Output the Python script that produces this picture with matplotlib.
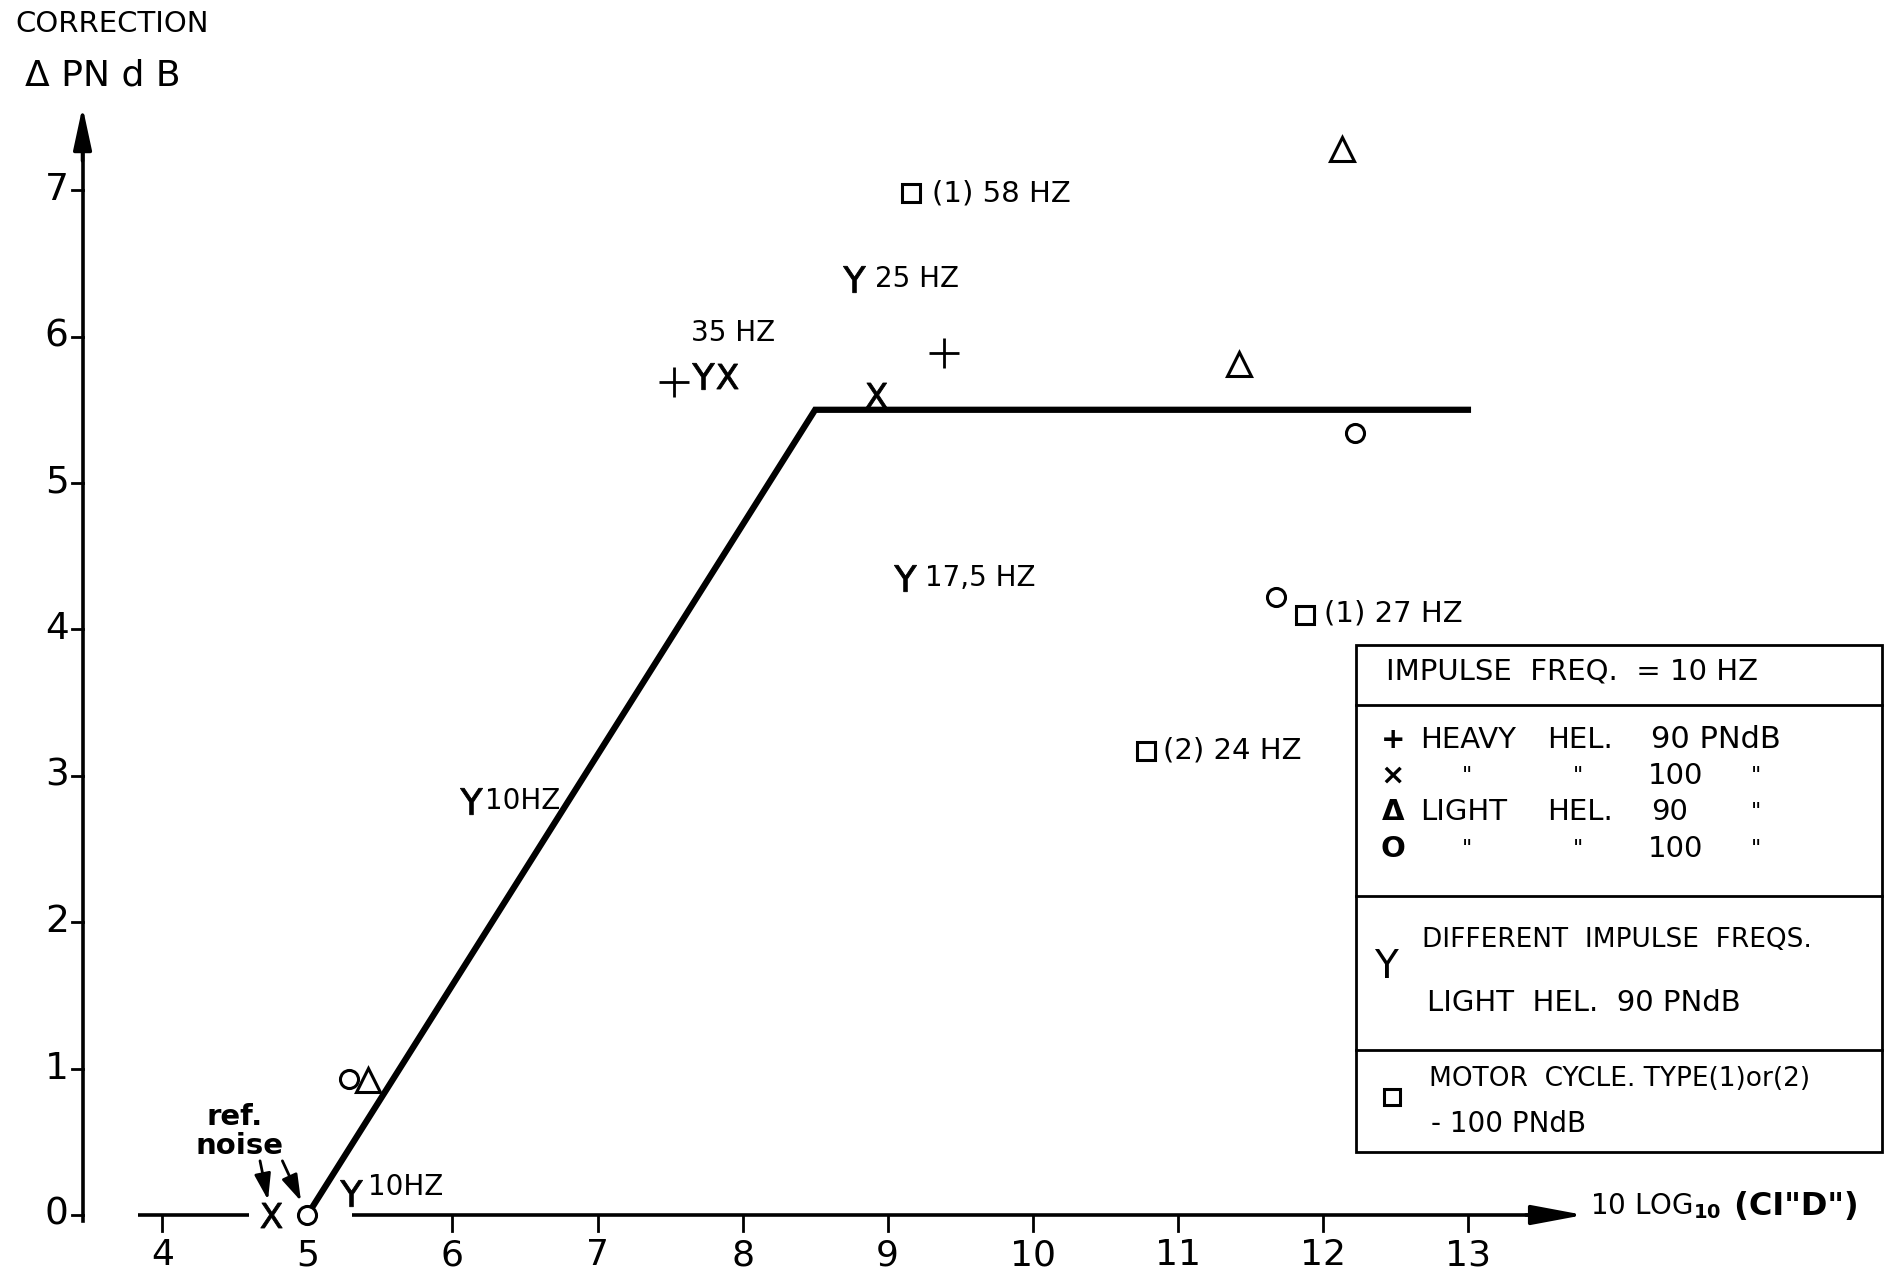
import matplotlib

matplotlib.use("Agg")
import matplotlib.pyplot as plt
from matplotlib.patches import Rectangle

# correction curve: rises from the reference point, then flat
curve_x = [5.0, 8.5, 13.0]
curve_y = [0.0, 5.5, 5.5]

# impulse freq = 10 Hz
heavy90_x = [7.53, 9.39]
heavy90_y = [5.69, 5.89]
heavy100_x = [4.75, 7.89, 8.92]
heavy100_y = [0.0, 5.73, 5.60]
light90_x = [5.42, 11.42, 12.13]
light90_y = [0.92, 5.81, 7.28]
light100_x = [5.0, 5.29, 11.68, 12.22]
light100_y = [0.0, 0.93, 4.22, 5.34]

# different impulse freqs, light hel. 90 PNdB
freq_x = [5.30, 6.13, 7.73, 8.77, 9.12]
freq_y = [0.15, 2.83, 5.73, 6.39, 4.35]
freq_labels = ["10HZ", "10HZ", "35 HZ", "25 HZ", "17,5 HZ"]

# motor cycles
moto_x = [9.16, 10.78, 11.88]
moto_y = [6.98, 3.17, 4.10]
moto_labels = ["(1) 58 HZ", "(2) 24 HZ", "(1) 27 HZ"]

x_ticks = [4, 5, 6, 7, 8, 9, 10, 11, 12, 13]
y_ticks = [0, 1, 2, 3, 4, 5, 6, 7]

# label offsets (points) next to the markers
freq_offsets = [(12, 4), (10, 0), (-9, 31), (15, 0), (14, 0)]
moto_offsets = [(15, 0), (12, 0), (13, 1)]

plt.rcParams["font.family"] = "DejaVu Sans"
INK = "black"

fig = plt.figure(figsize=(18.86, 12.74), dpi=100)
ax = fig.add_axes([0, 0, 1, 1])
ax.set_xlim(2.881, 15.882)
ax.set_ylim(-0.403, 8.299)
ax.axis("off")

# --- hand-drawn style axes ---
yaxis_x = 3.45
ax.plot([yaxis_x, yaxis_x], [-0.04, 7.4], color=INK, lw=2.6)
ax.annotate("", xy=(yaxis_x, 7.57), xytext=(yaxis_x, 7.2),
            arrowprops=dict(arrowstyle="-|>,head_length=1.3,head_width=0.28",
                            mutation_scale=20, color=INK, lw=2.6,
                            shrinkA=0, shrinkB=0))
for v in y_ticks:
    ax.plot([yaxis_x - 0.07, yaxis_x], [v, v], color=INK, lw=2)
    ax.annotate(str(v), xy=(yaxis_x, v), xytext=(-10, 0),
                textcoords="offset points", ha="right", va="center",
                fontsize=27)

x_segments = [(3.83, 4.60), (5.31, 13.5)]
for a, b in x_segments:
    ax.plot([a, b], [0, 0], color=INK, lw=2.6, solid_capstyle="butt")
ax.annotate("", xy=(13.8, 0), xytext=(13.4, 0),
            arrowprops=dict(arrowstyle="-|>,head_length=1.6,head_width=0.3",
                            mutation_scale=20, color=INK, lw=2.6,
                            shrinkA=0, shrinkB=0))
for t in x_ticks:
    if any(a <= t <= b for a, b in x_segments):
        ax.plot([t, t], [0, -0.11], color=INK, lw=2)
    ax.annotate(str(t), xy=(t, 0), xytext=(0, -29),
                textcoords="offset points", ha="center", va="center",
                fontsize=26)

# axis titles
ax.text(0.008, 0.981, "CORRECTION", transform=ax.transAxes,
        ha="left", va="center", fontsize=21)
ax.text(0.013, 0.941, "Δ PN d B", transform=ax.transAxes,
        ha="left", va="center", fontsize=26)
xl = ax.text(0.843, 0.053, "10 LOG$_{\\mathbf{10}}$ ", transform=ax.transAxes,
             ha="left", va="center", fontsize=20)
ax.annotate(" (CI\"D\")", xy=(1, 0.5), xycoords=xl, ha="left", va="center",
            fontsize=23, fontweight="bold")

# --- curve and data points ---
ax.plot(curve_x, curve_y, color=INK, lw=4.5, solid_joinstyle="miter", zorder=2)

ax.plot(heavy90_x, heavy90_y, ls="none", marker="+", ms=21, mew=2,
        color=INK, zorder=3)
ax.plot(heavy100_x, heavy100_y, ls="none", marker="$\\mathsf{X}$", ms=18,
        mew=0.6, color=INK, zorder=3)
ax.plot(light90_x, light90_y, ls="none", marker="^", ms=17, mew=2.2,
        mfc="white", mec=INK, zorder=3)
ax.plot(light100_x, light100_y, ls="none", marker="o", ms=13, mew=2.2,
        mfc="white", mec=INK, zorder=3)
ax.plot(freq_x, freq_y, ls="none", marker="$\\mathsf{Y}$", ms=19,
        mew=0.6, color=INK, zorder=3)
ax.plot(moto_x, moto_y, ls="none", marker="s", ms=13, mew=2.2,
        mfc="white", mec=INK, zorder=3)

for x, y, lab, off in zip(freq_x, freq_y, freq_labels, freq_offsets):
    ax.annotate(lab, xy=(x, y), xytext=off, textcoords="offset points",
                ha="left", va="center", fontsize=20)
for x, y, lab, off in zip(moto_x, moto_y, moto_labels, moto_offsets):
    ax.annotate(lab, xy=(x, y), xytext=off, textcoords="offset points",
                ha="left", va="center", fontsize=21)

# reference noise pointers
ax.text(4.5, 0.67, "ref.", ha="center", va="center", fontsize=21,
        fontweight="bold")
ax.text(4.53, 0.47, "noise", ha="center", va="center", fontsize=21,
        fontweight="bold")
arrow_kw = dict(arrowstyle="-|>,head_length=0.8,head_width=0.25",
                mutation_scale=20, color=INK, lw=2, shrinkA=0, shrinkB=11)
ax.annotate("", xy=(heavy100_x[0], heavy100_y[0]), xytext=(-8, 39),
            textcoords="offset points", arrowprops=arrow_kw)
ax.annotate("", xy=(light100_x[0], light100_y[0]), xytext=(-18, 39),
            textcoords="offset points", arrowprops=arrow_kw)

# --- key box ---
tr = ax.transAxes
box_l, box_r, box_b, box_t = 0.7188, 0.9981, 0.0954, 0.4939
ax.add_patch(Rectangle((box_l, box_b), box_r - box_l, box_t - box_b,
                       transform=tr, fill=False, lw=2, ec=INK))
for yy in [0.4467, 0.2965, 0.1756]:
    ax.plot([box_l, box_r], [yy, yy], transform=tr, color=INK, lw=2)

ax.text(0.7347, 0.4731, "IMPULSE  FREQ.  = 10 HZ", transform=tr,
        ha="left", va="center", fontsize=21)

rows = [0.4193, 0.3909, 0.3626, 0.3333]
symbols = ["+", "×", "Δ", "O"]
for yy, s in zip(rows, symbols):
    ax.text(0.7385, yy, s, transform=tr, ha="center", va="center",
            fontsize=21, fontweight="bold")
ax.text(0.7532, rows[0], "HEAVY", transform=tr, ha="left", va="center", fontsize=21)
ax.text(0.7532, rows[2], "LIGHT", transform=tr, ha="left", va="center", fontsize=21)
for yy in [rows[0], rows[2]]:
    ax.text(0.8202, yy, "HEL.", transform=tr, ha="left", va="center", fontsize=21)
ax.text(0.8756, rows[0], "90 PNdB", transform=tr, ha="left", va="center", fontsize=22)
ax.text(0.8756, rows[2], "90", transform=tr, ha="left", va="center", fontsize=21)
for yy in [rows[1], rows[3]]:
    ax.text(0.8735, yy, "100", transform=tr, ha="left", va="center", fontsize=21)
    ax.text(0.7781, yy, "\"", transform=tr, ha="center", va="center", fontsize=16)
    ax.text(0.8367, yy, "\"", transform=tr, ha="center", va="center", fontsize=16)
for yy in rows[1:]:
    ax.text(0.9311, yy, "\"", transform=tr, ha="center", va="center", fontsize=16)

ax.text(0.7347, 0.2408, "Y", transform=tr, ha="center", va="center", fontsize=28)
ax.text(0.7538, 0.2625, "DIFFERENT  IMPULSE  FREQS.", transform=tr,
        ha="left", va="center", fontsize=19)
ax.text(0.7564, 0.2125, "LIGHT  HEL.  90 PNdB", transform=tr,
        ha="left", va="center", fontsize=21)

ax.plot([0.7379], [0.1388], transform=tr, ls="none", marker="s", ms=12,
        mew=2.2, mfc="white", mec=INK)
ax.text(0.7577, 0.1530, "MOTOR  CYCLE. TYPE(1)or(2)", transform=tr,
        ha="left", va="center", fontsize=19)
ax.text(0.7589, 0.1180, "- 100 PNdB", transform=tr,
        ha="left", va="center", fontsize=20)

fig.savefig("out.png", dpi=100, facecolor="white")
